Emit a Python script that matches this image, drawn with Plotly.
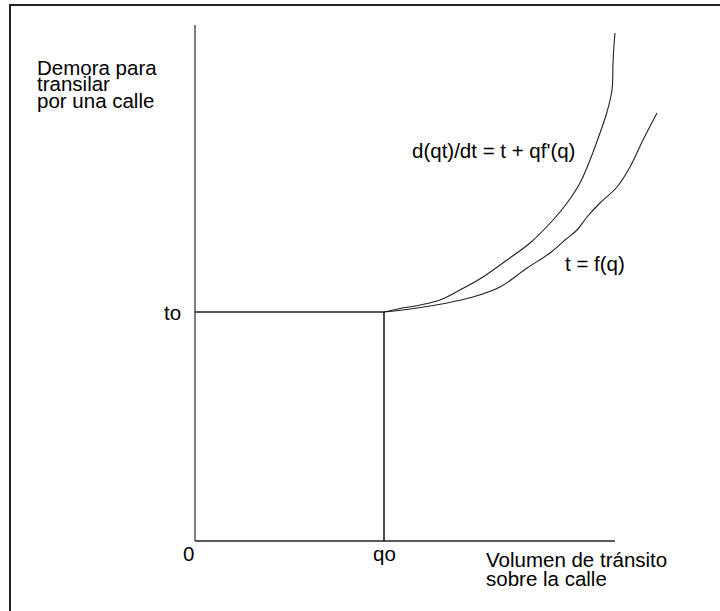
import plotly.graph_objects as go

# ---- data (chart units) ----
q0 = 18.9          # qo
t0 = 22.9          # to
x_axis_end = 42.0
y_axis_end = 51.6

x_tick_vals = [0, q0]
x_tick_text = ["0", "qo"]
y_tick_vals = [t0]
y_tick_text = ["to"]

# marginal curve d(qt)/dq = t + q f'(q)
q_marg = [18.9, 20.5, 22.5, 24.5, 26.5, 28.8, 31.2, 33.5, 35.8, 37.2, 38.5, 39.5, 40.5, 41.2, 41.7, 41.8, 41.9, 42.0]
t_marg = [22.9, 23.25, 23.6, 24.1, 25.1, 26.4, 28.1, 29.8, 32.1, 33.8, 35.8, 38.1, 40.8, 42.9, 45.1, 47.8, 49.6, 50.8]

# average curve t = f(q)
q_avg = [18.9, 21.5, 25.2, 27.8, 30.5, 33.2, 35.5, 37.0, 38.2, 39.2, 40.5, 42.2, 43.5, 44.8, 46.2]
t_avg = [22.9, 23.2, 23.8, 24.4, 25.4, 27.3, 28.8, 30.1, 31.1, 32.4, 33.8, 35.4, 37.4, 40.1, 42.8]

y_title = ["Demora para", "transilar", "por una calle"]
x_title = ["Volumen de tránsito", "sobre la calle"]
label_marg = "d(qt)/dt = t + qf'(q)"
label_avg = "t = f(q)"

FONT = "Liberation Sans, Arial, sans-serif"
fs = 20.5

fig = go.Figure()

line_kw = dict(mode="lines", hoverinfo="skip", showlegend=False)
# axes
fig.add_trace(go.Scatter(x=[0, 0], y=[0, y_axis_end], line=dict(color="#555", width=1.5), **line_kw))
fig.add_trace(go.Scatter(x=[0, x_axis_end], y=[0, 0], line=dict(color="#222", width=1.6), **line_kw))
# reference lines at to and qo
fig.add_trace(go.Scatter(x=[0, q0], y=[t0, t0], line=dict(color="#222", width=1.5), **line_kw))
fig.add_trace(go.Scatter(x=[q0, q0], y=[0, t0], line=dict(color="#111", width=1.5), **line_kw))
# curves
fig.add_trace(go.Scatter(x=q_marg, y=t_marg, line=dict(color="#222", width=1.1, shape="spline", smoothing=1.0), **line_kw))
fig.add_trace(go.Scatter(x=q_avg, y=t_avg, line=dict(color="#222", width=1.1, shape="spline", smoothing=1.0), **line_kw))

# frame around the figure
fig.add_shape(type="rect", xref="x", yref="y", x0=-18.5, y0=-10, x1=60, y1=53.6,
              line=dict(color="#222", width=2), fillcolor="rgba(0,0,0,0)", layer="below")

ann = []
def txt(s, x, y, xanchor="left", yanchor="middle"):
    ann.append(dict(text=s, x=x, y=y, xref="x", yref="y", showarrow=False,
                    xanchor=xanchor, yanchor=yanchor, borderpad=0,
                    font=dict(family=FONT, size=fs, color="black")))

# tick labels
for v, s in zip(x_tick_vals, x_tick_text):
    txt(s, v - (0.7 if v == 0 else 0), -1.2, xanchor="center")
for v, s in zip(y_tick_vals, y_tick_text):
    txt(s, -2.3, v, xanchor="center")

# axis titles
for i, s in enumerate(y_title):
    txt(s, -15.9, 47.4 - i * 1.68)
for i, s in enumerate(x_title):
    txt(s, 29.0, -1.8 - i * 1.9)

txt(label_marg, 21.6, 39.1)
txt(label_avg, 36.9, 27.8)

fig.update_layout(
    width=720, height=611,
    margin=dict(l=0, r=0, t=0, b=0),
    paper_bgcolor="white", plot_bgcolor="white",
    xaxis=dict(range=[-19.5, 52.5], visible=False, fixedrange=True),
    yaxis=dict(range=[-7.0, 54.1], visible=False, fixedrange=True),
    annotations=ann,
    showlegend=False,
)

fig.write_html("out.html", config={"displayModeBar": False},
               post_script="document.body.style.margin='0';")
